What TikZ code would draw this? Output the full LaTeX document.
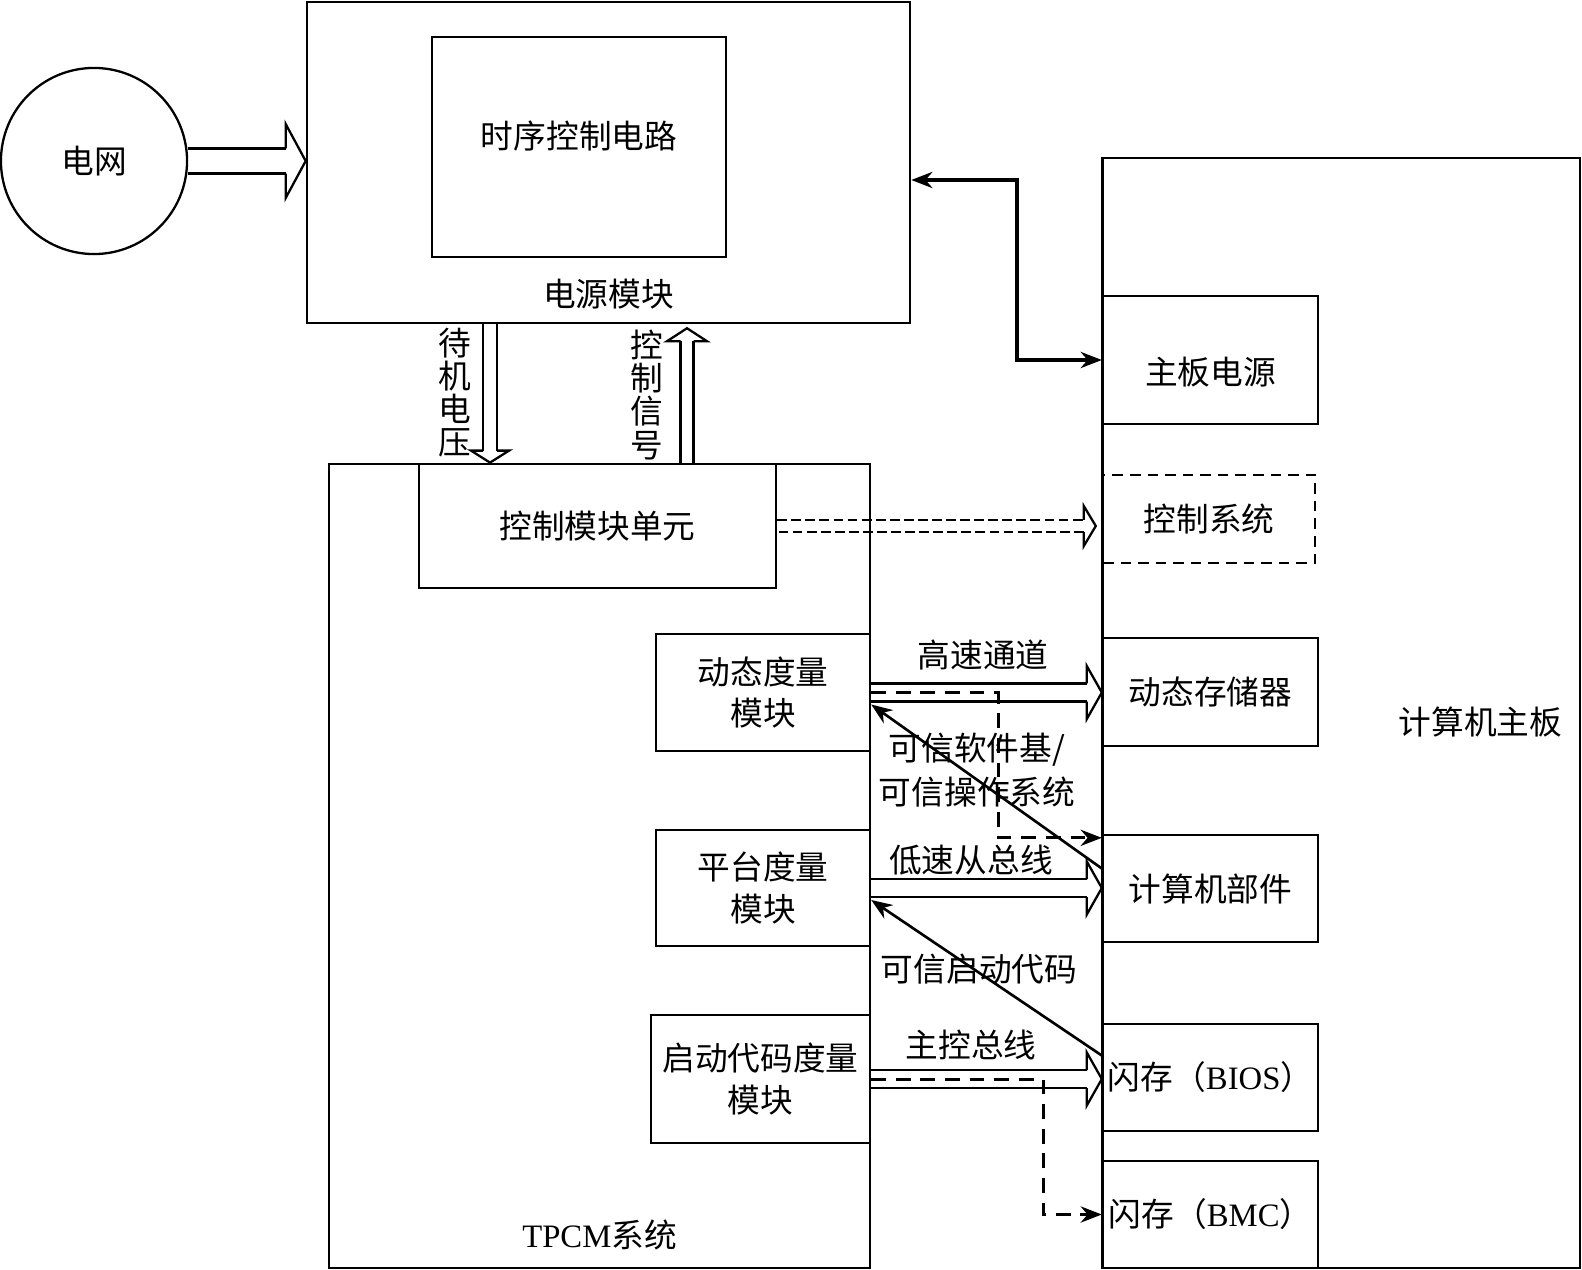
\documentclass[tikz,border=0pt]{standalone}
\usepackage{fontspec}
\setmainfont{Liberation Serif}
\newfontfamily\cjk{Noto Sans CJK SC}
\usetikzlibrary{calc,arrows.meta}

% hollow (outline) arrow: [shaft style]{from}{to}{half shaft}{half head}{head length}
\newcommand{\hollowarrow}[6][]{%
  \coordinate (ha-tip) at (#3);
  \coordinate (ha-base) at ($(#3)!#6!(#2)$);
  \draw[#1] ($(#2)!#4!90:(ha-tip)$) -- ($(ha-base)!#4!90:(ha-tip)$);
  \draw ($(ha-base)!#4!90:(ha-tip)$) -- ($(ha-base)!#5!90:(ha-tip)$) -- (ha-tip)
        -- ($(ha-base)!#5!-90:(ha-tip)$) -- ($(ha-base)!#4!-90:(ha-tip)$);
  \draw[#1] ($(ha-base)!#4!-90:(ha-tip)$) -- ($(#2)!#4!-90:(ha-tip)$);
}

\begin{document}
\begin{tikzpicture}[
  x=0.01cm,y=-0.01cm,line width=0.65pt,
  txt/.style={font=\cjk\fontsize{9.3}{11.7}\selectfont,inner sep=0pt,align=center},
  vtxt/.style={font=\cjk\fontsize{9.3}{9.4}\selectfont,inner sep=0pt,align=center},
  box/.style={rectangle,draw,txt},
  arr/.style={-{Stealth[length=6pt,width=4.6pt]},line width=0.75pt},
  biarr/.style={{Stealth[length=6pt,width=4.6pt]}-{Stealth[length=6pt,width=4.6pt]},line width=0.9pt},
  dasharr/.style={arr,line width=0.85pt,dash pattern=on 4.2pt off 2.8pt},
]
\useasboundingbox (0,0) rectangle (1582,1270);

% Power side
\node[circle,draw,txt,minimum size=1.86cm] (grid) at (94,161) {电网};
\node[box,minimum width=6.03cm,minimum height=3.21cm,
  label={[txt,anchor=south,yshift=0.14cm]south:电源模块}] (power) at (608.5,162.5) {};
\node[box,minimum width=2.94cm,minimum height=2.2cm,
  label={[txt,yshift=0.11cm]center:时序控制电路}] (timing) at (579,147) {};

% TPCM system
\node[box,minimum width=5.41cm,minimum height=8.04cm,
  label={[txt,anchor=south,yshift=0.18cm]south:{\rmfamily TPCM}系统}] (tpcm) at (599.5,866) {};
\node[box,minimum width=3.57cm,minimum height=1.24cm] (ctrl) at (597.5,526) {控制模块单元};
\node[box,minimum width=2.14cm,minimum height=1.17cm] (dyn) at (763,692.5) {动态度量\\模块};
\node[box,minimum width=2.14cm,minimum height=1.16cm] (plat) at (763,888) {平台度量\\模块};
\node[box,minimum width=2.19cm,minimum height=1.28cm] (boot) at (760.5,1079) {启动代码度量\\模块};

% Computer mainboard
\node[box,minimum width=4.77cm,minimum height=11.1cm,
  label={[txt,anchor=east,xshift=-0.18cm,yshift=-0.09cm]east:计算机主板}] (board) at (1341.5,713) {};
\node[box,minimum width=2.15cm,minimum height=1.28cm,
  label={[txt,yshift=-0.12cm]center:主板电源}] (mbpower) at (1210.5,360) {};
\node[box,dash pattern=on 3pt off 2pt,minimum width=2.12cm,minimum height=0.88cm] (ctrlsys) at (1209,519) {控制系统};
\node[box,minimum width=2.15cm,minimum height=1.08cm] (dram) at (1210.5,692) {动态存储器};
\node[box,minimum width=2.15cm,minimum height=1.07cm] (pc) at (1210.5,888.5) {计算机部件};
\node[box,minimum width=2.15cm,minimum height=1.07cm] (bios) at (1210.5,1077.5) {闪存（{\rmfamily BIOS}）};
\node[box,minimum width=2.15cm,minimum height=1.07cm] (bmc) at (1210.5,1214.5) {闪存（{\rmfamily BMC}）};
\draw (board.north west) -- (board.south west);

% Hollow arrows
\coordinate (gridin) at (grid.east -| power.west);
\hollowarrow{grid.east}{gridin}{0.125cm}{0.37cm}{0.2cm}
\coordinate (sv) at (490,400);
\path (sv |- power.south) coordinate (sv1) (sv |- tpcm.north) coordinate (sv2);
\hollowarrow{sv1}{sv2}{0.07cm}{0.19cm}{0.12cm}
\coordinate (cs) at (687,400);
\path (cs |- tpcm.north) coordinate (cs1) ($(cs |- power.south)+(0,4)$) coordinate (cs2);
\hollowarrow{cs1}{cs2}{0.065cm}{0.2cm}{0.13cm}
\coordinate (ctrlin) at ($(ctrl.east -| ctrlsys.west)+(-6,0)$);
\hollowarrow[dash pattern=on 2.8pt off 1.2pt]{ctrl.east}{ctrlin}{0.06cm}{0.2cm}{0.12cm}
\coordinate (dramin) at (dyn.east -| dram.west);
\hollowarrow{dyn.east}{dramin}{0.09cm}{0.265cm}{0.15cm}
\coordinate (pcin) at (plat.east -| pc.west);
\hollowarrow{plat.east}{pcin}{0.09cm}{0.265cm}{0.15cm}
\coordinate (biosin) at (boot.east -| bios.west);
\hollowarrow{boot.east}{biosin}{0.09cm}{0.265cm}{0.15cm}

% Vertical labels
\node[vtxt] at (455,393) {待\\机\\电\\压};
\node[vtxt] at (647,395) {控\\制\\信\\号};

% Power control line
\coordinate (pwout) at ($(power.east)+(0,17.5)$);
\draw[biarr] (pwout) -| (1017,270) |- (mbpower.west);

% Measurement arrows
\draw[dasharr] (dyn.east) -| (998,760) |- ($(pc.north west)+(0,4)$);
\draw[arr] ($(pc.west)+(0,-20)$) -- ($(dyn.east)+(0,12)$);
\draw[arr] ($(bios.west)+(0,-22)$) -- ($(plat.east)+(0,12)$);
\draw[dasharr] (boot.east) -| (1043,1150) |- (bmc.west);

% Bus labels
\node[txt] at (983,655) {高速通道};
\node[txt,font=\cjk\fontsize{9.3}{12.4}\selectfont] at (977,770) {可信软件基/\\可信操作系统};
\node[txt] at (971,860) {低速从总线};
\node[txt] at (979,969) {可信启动代码};
\node[txt] at (971,1045) {主控总线};

\end{tikzpicture}
\end{document}
